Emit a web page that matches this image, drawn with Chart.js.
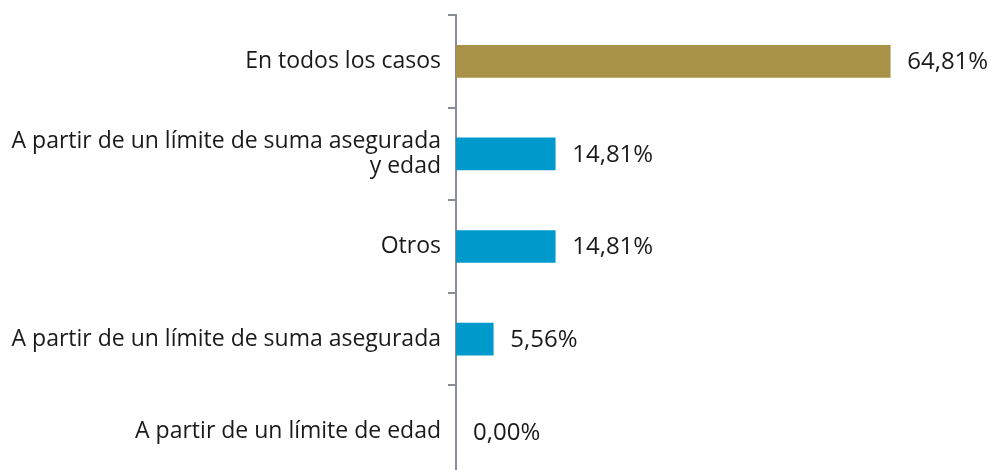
<!DOCTYPE html>
<html><head><meta charset="utf-8">
<script src="https://cdn.jsdelivr.net/npm/chart.js@4"></script>
<style>html,body{margin:0;padding:0;background:#fff;overflow:hidden;}#wrap{width:997px;height:478px;}</style>
</head><body><div id="wrap"><canvas id="c" width="997" height="478"></canvas></div>
<script>
const categories = [
  "En todos los casos",
  ["A partir de un límite de suma asegurada", "y edad"],
  "Otros",
  "A partir de un límite de suma asegurada",
  "A partir de un límite de edad"
];
const values = [64.81, 14.81, 14.81, 5.56, 0.00];
const barColors = ["#A89248", "#0099CC", "#0099CC", "#0099CC", "#0099CC"];

const FONT = "'Open Sans', sans-serif";
const FSIZE = 23;
const VSIZE = 24;

const valueLabels = {
  id: 'valueLabels',
  afterDatasetsDraw(chart) {
    const ctx = chart.ctx;
    const meta = chart.getDatasetMeta(0);
    ctx.save();
    ctx.font = VSIZE + "px " + FONT;
    ctx.fillStyle = "#1a1a1a";
    ctx.textBaseline = "middle";
    ctx.textAlign = "left";
    meta.data.forEach((bar, i) => {
      const txt = values[i].toFixed(2).replace('.', ',') + '%';
      ctx.fillText(txt, Math.max(bar.x, bar.base) + 17, bar.y + 1);
    });
    ctx.restore();
  }
};

new Chart(document.getElementById('c'), {
  type: 'bar',
  data: {
    labels: categories,
    datasets: [{
      data: values,
      backgroundColor: (c) => values[c.dataIndex] === 0 ? 'rgba(0,0,0,0)' : barColors[c.dataIndex],
      borderWidth: 0,
      barThickness: 32
    }]
  },
  options: {
    indexAxis: 'y',
    responsive: false,
    animation: false,
    layout: { padding: { top: 15, right: 5, bottom: 0, left: 0 } },
    plugins: { legend: { display: false }, tooltip: { enabled: false } },
    scales: {
      x: {
        min: 0, max: 80,
        display: false
      },
      y: {
        border: { display: true, color: '#888C94', width: 2 },
        grid: { drawOnChartArea: false, drawTicks: true, tickLength: 8, color: '#888C94', lineWidth: 2, offset: true },
        ticks: {
          color: '#1a1a1a',
          font: { family: FONT, size: FSIZE, lineHeight: 1.05 },
          padding: 7
        },
        afterFit(scale) {
          scale.width = 456;
          scale.paddingTop = 0;
          scale.paddingBottom = 0;
        }
      }
    }
  },
  plugins: [valueLabels]
});
</script></body></html>
